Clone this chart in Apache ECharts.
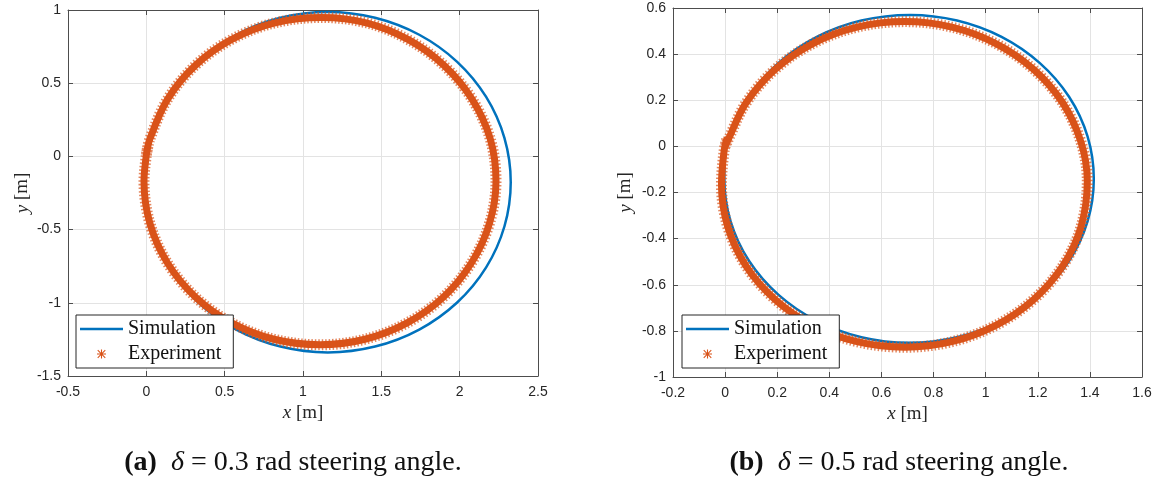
<!DOCTYPE html>
<html>
<head>
<meta charset="utf-8">
<script src="https://cdn.jsdelivr.net/npm/echarts@6/dist/echarts.min.js"></script>
<style>
  html, body { margin: 0; padding: 0; background: #fff; }
  #main { width: 1160px; height: 484px; }
</style>
</head>
<body>
<div id="main"></div>
<script>
// ── 資料 ────────────────────────────────────
// (a) δ = 0.3 rad
const simA = [
  [0.00, 0.00], [0.030, 0.125], [0.147, 0.406], [0.332, 0.646], [0.574, 0.831],
  [0.856, 0.947], [1.158, 0.987], [1.460, 0.947], [1.742, 0.831], [1.984, 0.646],
  [2.169, 0.406], [2.286, 0.125], [2.326, -0.176], [2.286, -0.477], [2.169, -0.758],
  [1.984, -0.998], [1.742, -1.183], [1.460, -1.299], [1.158, -1.339], [0.856, -1.299],
  [0.574, -1.183], [0.332, -0.998], [0.147, -0.758], [0.030, -0.477], [-0.010, -0.176],
  [0.00, 0.00], [0.012, 0.06]
];
const expA = [
  [0.00, 0.01], [0.023, 0.120], [0.135, 0.390], [0.313, 0.622], [0.545, 0.799],
  [0.815, 0.911], [1.120, 0.949], [1.410, 0.911], [1.670, 0.799], [1.900, 0.622],
  [2.080, 0.390], [2.195, 0.120], [2.232, -0.169], [2.190, -0.458], [2.075, -0.728],
  [1.897, -0.960], [1.665, -1.137], [1.395, -1.249], [1.110, -1.287], [0.815, -1.249],
  [0.545, -1.137], [0.313, -0.960], [0.135, -0.728], [0.023, -0.458], [-0.015, -0.169],
  [0.00, 0.01], [0.010, 0.07]
];
// (b) δ = 0.5 rad
const simB = [
  [0.00, 0.00], [0.021, 0.043], [0.092, 0.215], [0.205, 0.362], [0.352, 0.475],
  [0.523, 0.546], [0.710, 0.570], [0.890, 0.546], [1.061, 0.475], [1.207, 0.362],
  [1.320, 0.215], [1.391, 0.043], [1.415, -0.141], [1.391, -0.325], [1.320, -0.497],
  [1.207, -0.644], [1.061, -0.757], [0.890, -0.828], [0.706, -0.852], [0.523, -0.828],
  [0.352, -0.757], [0.205, -0.644], [0.092, -0.497], [0.021, -0.325], [-0.003, -0.141],
  [0.00, 0.00], [0.012, 0.04]
];
const expB = [
  [0.00, 0.00], [0.012, 0.030], [0.080, 0.188], [0.192, 0.334], [0.337, 0.446],
  [0.506, 0.517], [0.690, 0.541], [0.870, 0.517], [1.039, 0.446], [1.184, 0.334],
  [1.296, 0.188], [1.366, 0.018], [1.390, -0.150], [1.366, -0.348], [1.296, -0.518],
  [1.184, -0.664], [1.039, -0.776], [0.870, -0.847], [0.690, -0.871], [0.506, -0.847],
  [0.337, -0.776], [0.192, -0.664], [0.080, -0.518], [0.010, -0.348], [-0.014, -0.165],
  [-0.004, -0.02], [0.006, 0.03]
];

// 座標軸範圍 [min, max, interval]
const xRangeA = [-0.5, 2.5, 0.5];
const yRangeA = [-1.5, 1, 0.5];
const xRangeB = [-0.2, 1.6, 0.2];
const yRangeB = [-1, 0.6, 0.2];

const captionA = '{b|(a)}  {i|δ} = 0.3 rad steering angle.';
const captionB = '{b|(b)}  {i|δ} = 0.5 rad steering angle.';

// ── 樣式 ─────────────────────────────────────────
const BLUE   = '#0072BD';
const ORANGE = '#D95319';
const AXIS   = '#4d4d4d';
const SERIF  = '"Liberation Serif", "DejaVu Serif", serif';
const SANS   = '"Liberation Sans", Arial, sans-serif';
const STAR   = 'path://M0,4.4H10V5.6H0Z M4.4,0H5.6V10H4.4Z M1.2,0.4L9.6,8.8L8.8,9.6L0.4,1.2Z M8.8,0.4L9.6,1.2L1.2,9.6L0.4,8.8Z';
const DASH   = 'path://M0,0H40V2.4H0Z';
const SMOOTH = 0.34;   // 15° 間隔時接近圓弧

const chart = echarts.init(document.getElementById('main'), null, { renderer: 'canvas' });

function mainX(grid, r) {
  return {
    type: 'value', gridIndex: grid, min: r[0], max: r[1], interval: r[2],
    name: '{i|x} [m]', nameLocation: 'middle', nameGap: 25,
    nameTextStyle: { fontFamily: SERIF, fontSize: 19, color: '#262626',
                     rich: { i: { fontStyle: 'italic', fontFamily: SERIF, fontSize: 19 } } },
    axisLine: { show: true, onZero: false, lineStyle: { color: AXIS } },
    axisTick: { show: true, inside: true, length: 5, lineStyle: { color: AXIS } },
    axisLabel: { color: '#262626', fontFamily: SANS, fontSize: 14, margin: 9 },
    splitLine: { show: true, lineStyle: { color: '#e3e3e3' } },
  };
}
function mainY(grid, r, gap) {
  return {
    type: 'value', gridIndex: grid, min: r[0], max: r[1], interval: r[2],
    name: '{i|y} [m]', nameLocation: 'middle', nameGap: gap,
    nameTextStyle: { fontFamily: SERIF, fontSize: 19, color: '#262626',
                     rich: { i: { fontStyle: 'italic', fontFamily: SERIF, fontSize: 19 } } },
    axisLine: { show: true, onZero: false, lineStyle: { color: AXIS } },
    axisTick: { show: true, inside: true, length: 5, lineStyle: { color: AXIS } },
    axisLabel: { color: '#262626', fontFamily: SANS, fontSize: 14, margin: 7 },
    splitLine: { show: true, lineStyle: { color: '#e3e3e3' } },
  };
}
// 上方 / 右方的框線與刻度
function boxAxis(grid, r, pos) {
  return {
    type: 'value', gridIndex: grid, min: r[0], max: r[1], interval: r[2], position: pos,
    axisLine: { show: true, onZero: false, lineStyle: { color: AXIS } },
    axisTick: { show: true, inside: true, length: 5, lineStyle: { color: AXIS } },
    axisLabel: { show: false },
    splitLine: { show: false },
  };
}

function simSeries(data, xi, yi) {
  return {
    name: 'Simulation', type: 'line', xAxisIndex: xi, yAxisIndex: yi,
    data: data, smooth: SMOOTH, symbol: 'none',
    lineStyle: { color: BLUE, width: 2.5 }, itemStyle: { color: BLUE },
    z: 2,
  };
}
function expSeries(data, xi, yi) {
  return [
    {
      name: 'Experiment', type: 'line', xAxisIndex: xi, yAxisIndex: yi,
      data: data, smooth: SMOOTH, symbol: 'none',
      lineStyle: { color: ORANGE, width: 7, cap: 'round' }, itemStyle: { color: ORANGE },
      z: 3,
    },
    {
      name: 'Experiment', type: 'line', xAxisIndex: xi, yAxisIndex: yi,
      data: data, smooth: SMOOTH, symbol: 'none',
      lineStyle: { color: ORANGE, width: 11, type: [1.5, 2], opacity: 0.7 },
      itemStyle: { color: ORANGE },
      z: 4,
    },
  ];
}

function legendAt(left, top) {
  return {
    left: left, top: top, orient: 'vertical', z: 20,
    backgroundColor: '#fff', borderColor: '#262626', borderWidth: 1, borderRadius: 0,
    padding: [4, 12, 4, 4], itemWidth: 43, itemHeight: 9, itemGap: 5,
    selectedMode: false,
    textStyle: { fontFamily: SERIF, fontSize: 20, color: '#111' },
    data: [
      { name: 'Simulation', icon: DASH, itemStyle: { color: BLUE } },
      { name: 'Experiment', icon: STAR, itemStyle: { color: ORANGE } },
    ],
  };
}

function caption(text, x) {
  return {
    type: 'text', x: x, y: 463, z: 10,
    style: {
      text: text, align: 'center', verticalAlign: 'middle',
      fontFamily: SERIF, fontSize: 28, fill: '#111',
      rich: {
        b: { fontWeight: 'bold', fontFamily: SERIF, fontSize: 28 },
        i: { fontStyle: 'italic', fontFamily: SERIF, fontSize: 28 },
      },
    },
  };
}

const option = {
  backgroundColor: '#fff',
  animation: false,
  grid: [
    { left: 68,  top: 10, width: 470, height: 366, show: false },
    { left: 673, top: 8,  width: 469, height: 369, show: false },
  ],
  xAxis: [
    mainX(0, xRangeA), boxAxis(0, xRangeA, 'top'),
    mainX(1, xRangeB), boxAxis(1, xRangeB, 'top'),
  ],
  yAxis: [
    mainY(0, yRangeA, 36), boxAxis(0, yRangeA, 'right'),
    mainY(1, yRangeB, 38), boxAxis(1, yRangeB, 'right'),
  ],
  legend: [legendAt(76, 315), legendAt(682, 315)],
  series: [
    simSeries(simA, 0, 0), ...expSeries(expA, 0, 0),
    simSeries(simB, 2, 2), ...expSeries(expB, 2, 2),
  ],
  graphic: [caption(captionA, 293), caption(captionB, 899)],
};
chart.setOption(option);
</script>
</body>
</html>
